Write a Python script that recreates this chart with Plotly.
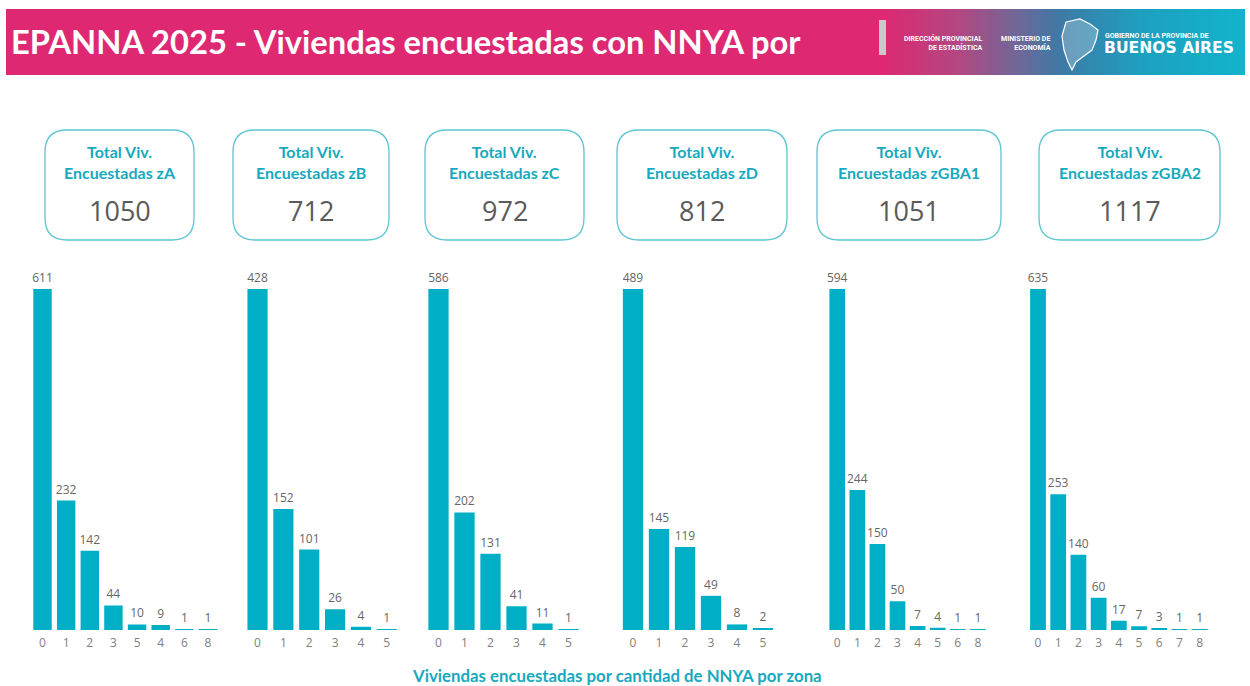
import plotly.graph_objects as go

W, H = 1250, 686

# ---------------- data ----------------
zones = ["zA", "zB", "zC", "zD", "zGBA1", "zGBA2"]
totals = [1050, 712, 972, 812, 1051, 1117]

cats_zA = ["0", "1", "2", "3", "5", "4", "6", "8"]
vals_zA = [611, 232, 142, 44, 10, 9, 1, 1]
cats_zB = ["0", "1", "2", "3", "4", "5"]
vals_zB = [428, 152, 101, 26, 4, 1]
cats_zC = ["0", "1", "2", "3", "4", "5"]
vals_zC = [586, 202, 131, 41, 11, 1]
cats_zD = ["0", "1", "2", "3", "4", "5"]
vals_zD = [489, 145, 119, 49, 8, 2]
cats_zGBA1 = ["0", "1", "2", "3", "4", "5", "6", "8"]
vals_zGBA1 = [594, 244, 150, 50, 7, 4, 1, 1]
cats_zGBA2 = ["0", "1", "2", "3", "4", "5", "6", "7", "8"]
vals_zGBA2 = [635, 253, 140, 60, 17, 7, 3, 1, 1]

title_text = "EPANNA 2025 - Viviendas encuestadas con NNYA por"
bottom_title = "Viviendas encuestadas por cantidad de NNYA por zona"

# ---------------- layout helpers ----------------
def px(x):
    return x / W

def py(y):
    return 1 - y / H

BAR = "#00AFC5"
TEAL_TXT = "#17A9BE"
LABEL_TXT = "#666666"
TICK_TXT = "#808080"

panels = [
    (cats_zA, vals_zA, 30.7, 219.8),
    (cats_zB, vals_zB, 244.6, 399.7),
    (cats_zC, vals_zC, 425.5, 581.5),
    (cats_zD, vals_zD, 620.0, 776.0),
    (cats_zGBA1, vals_zGBA1, 827.2, 987.9),
    (cats_zGBA2, vals_zGBA2, 1027.9, 1209.8),
]
bar_top, bar_bottom = 289, 630

fig = go.Figure()
layout_axes = {}
for i, (cats, vals, x0, x1) in enumerate(panels):
    n = i + 1
    xa = "x" if n == 1 else f"x{n}"
    ya = "y" if n == 1 else f"y{n}"
    fig.add_trace(go.Bar(
        x=cats, y=vals, xaxis=xa, yaxis=ya,
        marker=dict(color=BAR, line=dict(width=0)),
        text=[str(v) for v in vals], textposition="outside",
        textfont=dict(family="Open Sans", size=12, color=LABEL_TXT),
        outsidetextfont=dict(family="Open Sans", size=12, color=LABEL_TXT),
        constraintext="none",
        cliponaxis=False, showlegend=False, hoverinfo="x+y",
    ))
    xkey = "xaxis" if n == 1 else f"xaxis{n}"
    ykey = "yaxis" if n == 1 else f"yaxis{n}"
    layout_axes[xkey] = dict(
        domain=[px(x0), px(x1)], type="category", anchor=ya,
        categoryorder="array", categoryarray=cats,
        showgrid=False, zeroline=False, showline=False, ticks="",
        ticklabelstandoff=4,
        tickfont=dict(family="Open Sans", size=12, color=TICK_TXT),
        fixedrange=True,
    )
    layout_axes[ykey] = dict(
        domain=[py(bar_bottom), py(bar_top)], range=[0, max(vals)],
        anchor=xa, visible=False, showgrid=False, zeroline=False,
        fixedrange=True,
    )

shapes = []
annotations = []

# ---------------- header ----------------
hx0, hx1, hy0, hy1 = 6, 1245, 9, 75
PINK = (222, 41, 114)
shapes.append(dict(type="rect", xref="paper", yref="paper",
                   x0=px(hx0), x1=px(882), y0=py(hy1), y1=py(hy0),
                   fillcolor="rgb(%d,%d,%d)" % PINK, line=dict(width=0), layer="below"))
stops = [(882, PINK), (960, (178, 72, 130)), (1010, (120, 100, 150)),
         (1060, (62, 122, 165)), (1140, (30, 160, 192)), (1245, (18, 180, 204))]
step = 4
xs = 882
while xs < hx1:
    xm = xs + step / 2
    for (a, ca), (b, cb) in zip(stops[:-1], stops[1:]):
        if a <= xm <= b:
            t = (xm - a) / (b - a)
            c = tuple(int(ca[k] + (cb[k] - ca[k]) * t) for k in range(3))
            break
    shapes.append(dict(type="rect", xref="paper", yref="paper",
                       x0=px(xs), x1=px(min(xs + step + 0.6, hx1)), y0=py(hy1), y1=py(hy0),
                       fillcolor="rgb(%d,%d,%d)" % c, line=dict(width=0), layer="below"))
    xs += step

# separator bar
shapes.append(dict(type="rect", xref="paper", yref="paper",
                   x0=px(879), x1=px(886), y0=py(55), y1=py(20),
                   fillcolor="#C9C9C9", line=dict(width=0)))

annotations.append(dict(xref="paper", yref="paper", x=px(9), y=py(42),
                        xanchor="left", yanchor="middle", showarrow=False,
                        text="<b>" + title_text + "</b>",
                        font=dict(family="Lato", size=32.7, color="white")))

annotations.append(dict(xref="paper", yref="paper", x=px(985), y=py(43),
                        xanchor="right", yanchor="middle", align="right", showarrow=False,
                        text="<b>DIRECCIÓN PROVINCIAL<br>DE ESTADÍSTICA</b>",
                        font=dict(family="Roboto", size=7, color="white")))
annotations.append(dict(xref="paper", yref="paper", x=px(1053), y=py(43),
                        xanchor="right", yanchor="middle", align="right", showarrow=False,
                        text="<b>MINISTERIO DE<br>ECONOMÍA</b>",
                        font=dict(family="Roboto", size=7, color="white")))
annotations.append(dict(xref="paper", yref="paper", x=px(1103), y=py(36),
                        xanchor="left", yanchor="middle", showarrow=False,
                        text="<b>GOBIERNO DE LA PROVINCIA DE</b>",
                        font=dict(family="Roboto", size=7, color="white")))
annotations.append(dict(xref="paper", yref="paper", x=px(1102), y=py(48),
                        xanchor="left", yanchor="middle", showarrow=False,
                        text="<b>BUENOS AIRES</b>",
                        font=dict(family="DejaVu Sans", size=15.6, color="white")))

# rough province outline (decorative)
outline = [(1066, 22), (1080, 19), (1090, 24), (1098, 30), (1096, 40), (1092, 50),
           (1084, 56), (1076, 62), (1072, 70), (1068, 62), (1064, 50), (1062, 36)]
path = "M " + " L ".join("%f,%f" % (px(a), py(b)) for a, b in outline) + " Z"
shapes.append(dict(type="path", xref="paper", yref="paper", path=path,
                   fillcolor="rgba(255,255,255,0.25)", line=dict(color="white", width=1.2)))

# ---------------- cards ----------------
cards = [(45, 194), (233, 389), (425, 584), (617, 787), (817, 1001), (1039, 1220)]
cy0, cy1, r = 130, 240, 22

def rounded(x0, y0, x1, y1, r):
    def P(x, y):
        return "%f,%f" % (px(x), py(y))
    d = "M " + P(x0 + r, y0)
    d += " L " + P(x1 - r, y0) + " Q " + P(x1, y0) + " " + P(x1, y0 + r)
    d += " L " + P(x1, y1 - r) + " Q " + P(x1, y1) + " " + P(x1 - r, y1)
    d += " L " + P(x0 + r, y1) + " Q " + P(x0, y1) + " " + P(x0, y1 - r)
    d += " L " + P(x0, y0 + r) + " Q " + P(x0, y0) + " " + P(x0 + r, y0) + " Z"
    return d

for (x0, x1), z, tot in zip(cards, zones, totals):
    shapes.append(dict(type="path", xref="paper", yref="paper",
                       path=rounded(x0, cy0, x1, cy1, r),
                       line=dict(color="#5CC6D2", width=1.3), fillcolor="white"))
    cx = (x0 + x1) / 2
    annotations.append(dict(xref="paper", yref="paper", x=px(cx), y=py(162),
                            xanchor="center", yanchor="middle", showarrow=False,
                            text="<b>Total Viv.<br>Encuestadas " + z + "</b>",
                            font=dict(family="Lato", size=16, color=TEAL_TXT)))
    annotations.append(dict(xref="paper", yref="paper", x=px(cx), y=py(210),
                            xanchor="center", yanchor="middle", showarrow=False,
                            text=str(tot),
                            font=dict(family="Open Sans", size=27, color="#5A5A5A")))

annotations.append(dict(xref="paper", yref="paper", x=px(617), y=py(675),
                        xanchor="center", yanchor="middle", showarrow=False,
                        text="<b>" + bottom_title + "</b>",
                        font=dict(family="Lato", size=16.8, color=TEAL_TXT)))

fig.update_layout(
    width=W, height=H, margin=dict(l=0, r=0, t=0, b=0),
    paper_bgcolor="white", plot_bgcolor="white",
    bargap=0.22, shapes=shapes, annotations=annotations, showlegend=False,
    **layout_axes,
)
fig.write_html("out.html", config={"displayModeBar": False},
               post_script="document.body.style.margin='0';document.body.style.overflow='hidden';")
